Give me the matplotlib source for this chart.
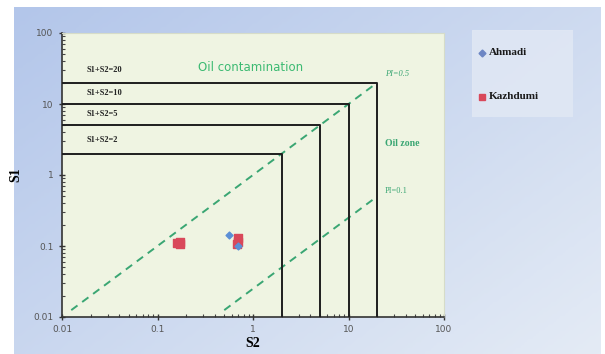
import numpy as np
import matplotlib
matplotlib.use('Agg')
import matplotlib.pyplot as plt
from matplotlib.patches import Rectangle

# data
ahmadi_s2 = [0.56, 0.70]
ahmadi_s1 = [0.143, 0.100]
kazh_s2 = [0.16, 0.17, 0.17, 0.70, 0.70, 0.68]
kazh_s1 = [0.110, 0.115, 0.108, 0.130, 0.115, 0.105]
totals = [20, 10, 5, 2]
total_labels = ['S1+S2=20', 'S1+S2=10', 'S1+S2=5', 'S1+S2=2']
label_y = [30, 14.5, 7.2, 3.1]
pi_lines = [(1.0, 0.0125, 20), (0.025, 0.5, 20)]  # (S1/S2 ratio, x start, x end)
ticks = [0.01, 0.1, 1, 10, 100]
tick_labels = ['0.01', '0.1', '1', '10', '100']

fig = plt.figure(figsize=(6.05, 3.54), dpi=100)
fig.patch.set_facecolor('white')

# blue gradient panel behind everything
bg = fig.add_axes([14/605, 0, 1 - 14/605 - 4/605, 1 - 7/354], zorder=0)
gx, gy = np.meshgrid(np.linspace(0, 1, 200), np.linspace(0, 1, 120))
grad = 0.55 * gx + 0.45 * gy
bg.imshow(grad, cmap=matplotlib.colors.LinearSegmentedColormap.from_list(
    'bg', ['#b3c6ea', '#e4ebf5']), aspect='auto', extent=[0, 1, 0, 1])
bg.set_axis_off()

# legend box
lg = fig.add_axes([472/605, 1 - 117/354, 101/605, 87/354], zorder=1)
lg.set_xlim(0, 1)
lg.set_ylim(0, 1)
lg.add_patch(Rectangle((0, 0), 1, 1, color='#e1e8f4', alpha=0.85))
lg.plot([0.1], [0.74], marker='D', color='#6d86c4', markersize=3.5)
lg.text(0.17, 0.74, 'Ahmadi', fontsize=8, fontweight='bold', family='Liberation Serif',
        va='center', color='#1a1a1a')
lg.plot([0.1], [0.23], marker='s', color='#d9485a', markersize=5)
lg.text(0.17, 0.23, 'Kazhdumi', fontsize=8, fontweight='bold', family='Liberation Serif',
        va='center', color='#1a1a1a')
lg.set_axis_off()

ax = fig.add_axes([62/605, 1 - 317/354, 382/605, 284/354], zorder=2)
ax.set_facecolor('#eff4e2')
ax.set_xscale('log')
ax.set_yscale('log')
ax.set_xlim(0.01, 100)
ax.set_ylim(0.01, 100)

green = '#3aa673'
for ratio, x0, x1 in pi_lines:
    xs = np.array([x0, x1])
    ax.plot(xs, ratio * xs, color=green, linestyle=(0, (4, 3)), linewidth=1.4, zorder=2)

for t in totals:
    ax.plot([0.01, t, t], [t, t, 0.01], color='#1e1e1e', linewidth=1.4, zorder=3)

for lab, yv in zip(total_labels, label_y):
    ax.text(0.018, yv, lab, fontsize=6, fontweight='bold', family='Liberation Serif',
            color='#222222', va='center')

ax.scatter(kazh_s2, kazh_s1, marker='s', s=36, color='#d9485a', zorder=4)
ax.scatter(ahmadi_s2, ahmadi_s1, marker='D', s=12, color='#5b8fd6', zorder=5)

ax.text(0.95, 33, 'Oil contamination', fontsize=8.5, color='#3cba72', ha='center', va='center')
ax.text(24, 25, 'PI=0.5', fontsize=6, color=green, family='Liberation Serif', style='italic')
ax.text(24, 2.6, 'Oil zone', fontsize=7, fontweight='bold', color=green,
        family='Liberation Serif')
ax.text(24, 0.55, 'PI=0.1', fontsize=6, color=green, family='Liberation Serif')

ax.set_xticks(ticks)
ax.set_xticklabels(tick_labels)
ax.set_yticks(ticks)
ax.set_yticklabels(tick_labels)
ax.tick_params(axis='both', which='major', direction='inout', length=5, width=1,
               labelsize=6.5, labelcolor='#555555', color='#333333')
ax.tick_params(axis='both', which='minor', direction='in', length=2.5, width=0.8,
               color='#444444')
for side in ['top', 'right']:
    ax.spines[side].set_color('#d6dcc8')
    ax.spines[side].set_linewidth(0.8)
for side in ['left', 'bottom']:
    ax.spines[side].set_color('#333333')
    ax.spines[side].set_linewidth(1.2)

ax.set_xlabel('S2', fontsize=10, fontweight='bold', family='Liberation Serif', labelpad=2)
ax.set_ylabel('S1', fontsize=10, fontweight='bold', family='Liberation Serif', labelpad=8)

plt.savefig('out.png', dpi=100)
